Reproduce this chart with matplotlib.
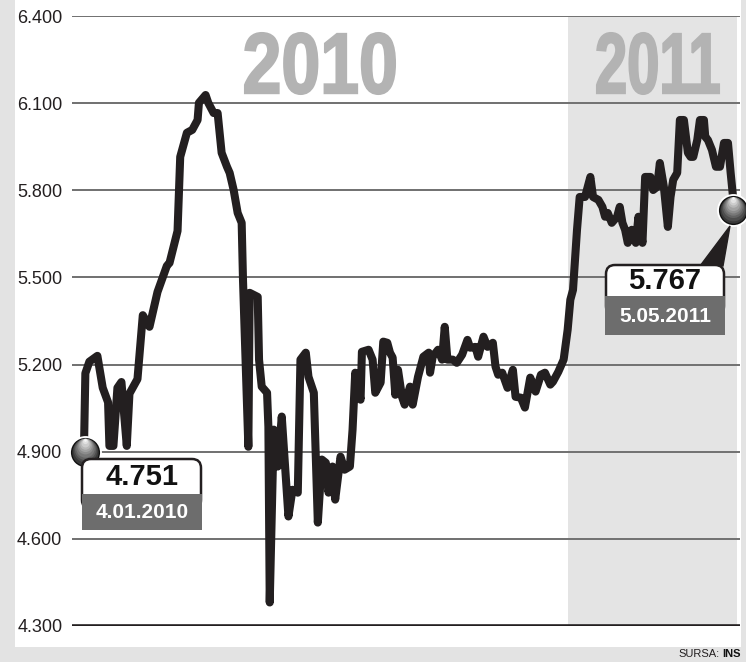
import matplotlib
matplotlib.use("Agg")
import matplotlib.pyplot as plt
from matplotlib.patches import Rectangle, FancyBboxPatch, Polygon, PathPatch
from matplotlib.transforms import Affine2D
from matplotlib.textpath import TextPath
from matplotlib.font_manager import FontProperties, findfont

# zile de la 4.01.2010, valoare (mii)
zile = [0, 1, 4, 10, 14, 18, 19, 22, 25, 28, 32, 34, 40, 44, 49, 55, 62, 64, 70,
        72, 77, 81, 85, 86, 91, 93, 97, 100, 103, 107, 109, 112, 115, 118, 119,
        123, 124, 130, 131, 133, 137, 138, 139, 142, 145, 148, 153, 156, 160,
        162, 166, 168, 172, 175, 178, 181, 183, 186, 188, 192, 195, 199, 201,
        203, 207, 208, 213, 216, 218, 222, 224, 227, 229, 231, 233, 235, 238,
        240, 244, 246, 250, 254, 258, 259, 261, 265, 268, 270, 272, 276, 279,
        283, 287, 289, 293, 295, 299, 302, 306, 308, 310, 313, 317, 321, 323,
        327, 330, 334, 338, 342, 345, 349, 351, 355, 359, 362, 364, 366, 369,
        371, 375, 379, 381, 385, 388, 390, 392, 395, 399, 401, 403, 405, 407,
        410, 413, 415, 418, 420, 424, 426, 429, 431, 434, 437, 439, 441, 444,
        446, 449, 452, 454, 456, 459, 461, 464, 465, 467, 470, 473, 476, 479,
        482, 484, 486]
valori = [4.92, 5.17, 5.21, 5.23, 5.12, 5.07, 4.92, 4.92, 5.12, 5.14, 4.92, 5.10,
          5.15, 5.37, 5.33, 5.45, 5.54, 5.55, 5.66,
          5.915, 5.998, 6.008, 6.042, 6.101, 6.128, 6.101, 6.066, 6.066, 5.929,
          5.881, 5.860, 5.801, 5.722, 5.688, 5.49,
          4.917, 5.447, 5.433, 5.217, 5.124, 5.103, 4.986, 4.381, 4.976, 4.849,
          5.021, 4.677, 4.769, 4.759,
          5.217, 5.241, 5.158, 5.103, 4.656, 4.873, 4.862, 4.759, 4.849, 4.735,
          4.883, 4.838, 4.849, 4.976,
          5.172, 5.079, 5.244, 5.251, 5.217, 5.103, 5.138, 5.279, 5.275, 5.241,
          5.224, 5.096, 5.182, 5.089,
          5.062, 5.124, 5.062, 5.158, 5.227, 5.241, 5.172, 5.227, 5.251, 5.217,
          5.330, 5.217, 5.217, 5.206,
          5.234, 5.285, 5.258, 5.261, 5.227, 5.296, 5.261, 5.275, 5.193, 5.165,
          5.172, 5.120, 5.182, 5.089,
          5.086, 5.052, 5.155, 5.107, 5.165, 5.172, 5.131, 5.141, 5.175, 5.217,
          5.320, 5.423, 5.457, 5.664,
          5.777, 5.777, 5.846, 5.777, 5.767, 5.743, 5.709, 5.722, 5.688, 5.709,
          5.743, 5.688, 5.664, 5.619,
          5.664, 5.619, 5.709, 5.619, 5.846, 5.846, 5.801, 5.812, 5.894, 5.812,
          5.674, 5.777, 5.836, 5.860,
          6.042, 6.042, 5.929, 5.915, 5.915, 5.973, 6.042, 6.042, 5.984, 5.973,
          5.939, 5.881, 5.881, 5.963,
          5.963, 5.860, 5.767]

yticks = [4.3, 4.6, 4.9, 5.2, 5.5, 5.8, 6.1, 6.4]
start_2011 = 362
ani = ["2010", "2011"]
eticheta_start = ("4.751", "4.01.2010")
eticheta_final = ("5.767", "5.05.2011")


def font_ok(name):
    try:
        findfont(FontProperties(family=name), fallback_to_default=False)
        return True
    except Exception:
        return False


FONT = next((f for f in ["Liberation Sans Narrow", "DejaVu Sans Condensed",
                         "Liberation Sans"] if font_ok(f)), "DejaVu Sans")
plt.rcParams["font.family"] = [FONT, "DejaVu Sans"]

W, H = 746, 662
fig = plt.figure(figsize=(W / 100, H / 100), dpi=100, facecolor="#e3e3e3")
# pixel coords, y down
T = Affine2D().scale(1 / W, -1 / H).translate(0, 1) + fig.transFigure

fig.patches.append(Rectangle((15, 0), 726, 647, transform=T, facecolor="white",
                             edgecolor="none", zorder=-5))

ax = fig.add_axes([72 / W, (H - 626) / H, 668 / W, 610 / H], zorder=1)
ax.patch.set_alpha(0)
ax.set_xlim(-9, 491)
ax.set_ylim(4.3, 6.4)
for s in ax.spines.values():
    s.set_visible(False)
ax.set_xticks([])
ax.set_yticks(yticks)
ax.set_yticklabels([f"{v:.3f}" for v in yticks], fontsize=13, color="#231f20")
ax.tick_params(axis="y", length=0, pad=7)

ax.axvspan(start_2011, 489, color="#e4e4e4", zorder=1, lw=0)
for v in yticks[1:]:
    ax.axhline(v, color="#707070", lw=1.4, zorder=2)
ax.axhline(yticks[0], color="#231f20", lw=2.6, zorder=2)

# ani, litere condensate
fp_bold = FontProperties(family=FONT, weight="bold")
for an, (x0, x1) in zip(ani, [(245, 395), (597, 719)]):
    tp = TextPath((0, 0), an, size=100, prop=fp_bold)
    bb = tp.get_extents()
    tr = (Affine2D().translate(-bb.x0, -bb.y0)
          .scale((x1 - x0) / bb.width, -61 / bb.height).translate(x0, 94) + T)
    fig.patches.append(PathPatch(tp, transform=tr, facecolor="#b3b3b3",
                                 edgecolor="#b3b3b3", lw=1.5, zorder=2))

ax.plot(zile, valori, color="#231f20", lw=5.8, solid_joinstyle="round",
        solid_capstyle="butt", zorder=3)

# callout start
fig.patches.append(FancyBboxPatch((82, 459), 119, 50, boxstyle="round,pad=0,rounding_size=9",
                                  transform=T, facecolor="white", edgecolor="#231f20",
                                  lw=1.8, zorder=5))
fig.patches.append(Rectangle((82, 494), 120, 36, transform=T, facecolor="#6d6d6d",
                             edgecolor="none", zorder=6))
fig.text(142, 477, eticheta_start[0], transform=T, fontsize=21, fontweight="bold",
         color="#111111", ha="center", va="center", zorder=7)
fig.text(142, 513, eticheta_start[1], transform=T, fontsize=15, fontweight="bold",
         color="white", ha="center", va="center", zorder=7)

# callout final
fig.patches.append(Polygon([(700, 266), (723, 266), (730, 226)], closed=True, transform=T,
                           facecolor="#231f20", edgecolor="#231f20", lw=1, zorder=5))
fig.patches.append(FancyBboxPatch((606, 265), 118, 50, boxstyle="round,pad=0,rounding_size=9",
                                  transform=T, facecolor="white", edgecolor="#231f20",
                                  lw=1.8, zorder=5))
fig.patches.append(Rectangle((605, 296), 120, 39, transform=T, facecolor="#6d6d6d",
                             edgecolor="none", zorder=6))
fig.text(665, 281, eticheta_final[0], transform=T, fontsize=21, fontweight="bold",
         color="#111111", ha="center", va="center", zorder=7)
fig.text(665, 316, eticheta_final[1], transform=T, fontsize=15, fontweight="bold",
         color="white", ha="center", va="center", zorder=7)

# bile
for x, y in [(zile[0] + 1, valori[0] - 0.02), (zile[-1], valori[-1] - 0.035)]:
    ax.scatter([x], [y], s=560, color="white", zorder=8, clip_on=False, lw=0)
    ax.scatter([x], [y], s=440, color="#111111", zorder=8, clip_on=False, lw=0)
    n = 10
    for i in range(n):
        f = 1 - i / n
        g = 0.22 + 0.75 * (i / (n - 1))
        ax.scatter([x], [y + 0.0045 * i], s=360 * f * f, color=(g, g, g), zorder=9,
                   clip_on=False, lw=0)

fig.text(720, 649, "SURSA:", transform=T, fontsize=8, color="#231f20", ha="right", va="top")
fig.text(722, 649, "INS", transform=T, fontsize=8, fontweight="bold", color="#111111",
         ha="left", va="top")

fig.savefig("out.png", dpi=100, facecolor=fig.get_facecolor())
